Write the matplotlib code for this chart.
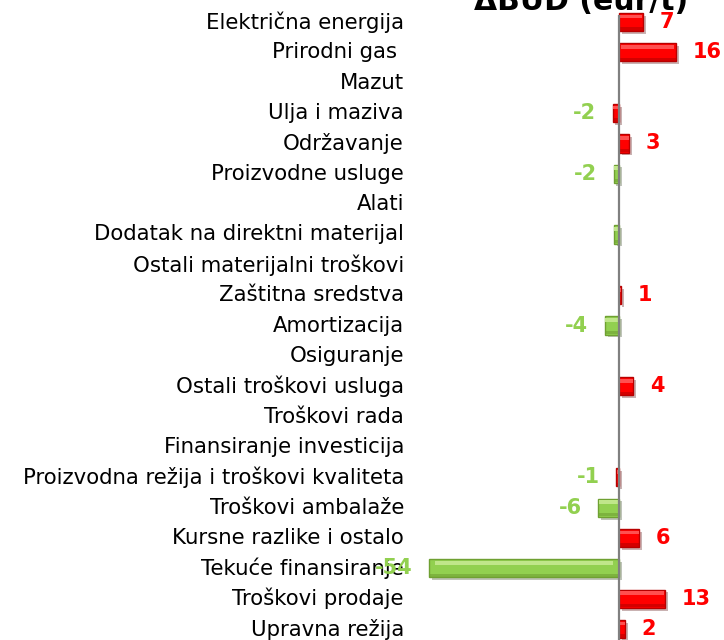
import matplotlib.pyplot as plt
import matplotlib.patheffects as pe
from matplotlib.transforms import ScaledTranslation

categories = ["Električna energija", "Prirodni gas ", "Mazut", "Ulja i maziva",
              "Održavanje", "Proizvodne usluge", "Alati",
              "Dodatak na direktni materijal", "Ostali materijalni troškovi",
              "Zaštitna sredstva", "Amortizacija", "Osiguranje",
              "Ostali troškovi usluga", "Troškovi rada", "Finansiranje investicija",
              "Proizvodna režija i troškovi kvaliteta", "Troškovi ambalaže",
              "Kursne razlike i ostalo", "Tekuće finansiranje", "Troškovi prodaje",
              "Upravna režija"]
values = [6.8, 16, 0, -1.8, 2.8, -1.5, 0, -1.4, 0, 0.6, -4, 0, 4, 0, 0,
          -0.7, -5.8, 5.7, -53.5, 13, 1.7]
labels = ["7", "16", "", "-2", "3", "-2", "", "", "", "1", "-4", "", "4", "", "",
          "-1", "-6", "6", "-54", "13", "2"]
# bar colour kind (r = red, g = green) as drawn in the original
kinds = ["r", "r", "r", "r", "r", "g", "g", "g", "g", "r", "g", "g", "r", "r", "r",
         "r", "g", "r", "g", "r", "r"]

RED, RED_LT, RED_DK = "#ff0000", "#ff5050", "#b80000"
GRN, GRN_LT, GRN_DK = "#92d050", "#c0e68a", "#6fa032"
TXT_RED, TXT_GRN = "#ff0000", "#92d050"

fig = plt.figure(figsize=(7.24, 6.4), dpi=100)
ax = fig.add_axes([406 / 724, 0, 318 / 724, 1])
ax.set_xlim(-60, 29.6)
ax.set_ylim(20.36, -0.725)

h = 0.6
shadow = [pe.SimplePatchShadow(offset=(2, -2), alpha=0.3), pe.Normal()]
for i, (v, k) in enumerate(zip(values, kinds)):
    if v == 0:
        continue
    c, lt, dk = (RED, RED_LT, RED_DK) if k == "r" else (GRN, GRN_LT, GRN_DK)
    b = ax.barh(i, v, height=h, color=c, edgecolor=dk, linewidth=1, zorder=2)
    for p in b:
        p.set_path_effects(shadow)
    # bevel: lighter top band, darker bottom band
    ax.barh(i - h * 0.3, v * 0.94, left=v * 0.03, height=h * 0.2,
            color=lt, linewidth=0, zorder=3)
    ax.barh(i + h * 0.38, v, height=h * 0.18, color=dk, alpha=0.6,
            linewidth=0, zorder=3)

ax.vlines(0, -0.23, 20.36, color="#808080", linewidth=1.6, zorder=4)

for i, (v, lab) in enumerate(zip(values, labels)):
    if not lab:
        continue
    if lab.startswith("-"):
        ax.annotate(lab, (min(v, 0), i), xytext=(-12, 0), textcoords="offset points",
                    ha="right", va="center", color=TXT_GRN, fontsize=15,
                    fontweight="bold", zorder=5)
    else:
        ax.annotate(lab, (v, i), xytext=(12, 0), textcoords="offset points",
                    ha="left", va="center", color=TXT_RED, fontsize=15,
                    fontweight="bold", zorder=5)

ax.set_yticks(range(len(categories)), categories, fontsize=15.3)
ax.tick_params(axis="y", length=0, pad=1.5)
shift = ScaledTranslation(0, 2 / 100, fig.dpi_scale_trans)
for t in ax.get_yticklabels():
    t.set_transform(t.get_transform() + shift)
ax.set_xticks([])
for s in ax.spines.values():
    s.set_visible(False)

fig.text(581 / 724, 1 - 10 / 640, "ΔBUD (eur/t)", ha="center", va="baseline",
         fontsize=21.5, fontweight="bold")

fig.savefig("out.png", dpi=100)
